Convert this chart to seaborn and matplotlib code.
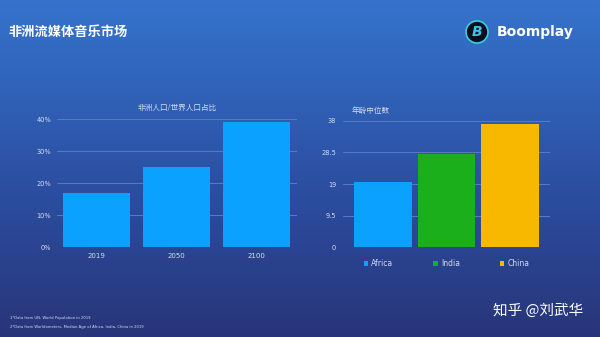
import numpy as np
import pandas as pd
import matplotlib
matplotlib.use("Agg")
import matplotlib.pyplot as plt
import seaborn as sns
from matplotlib.patches import Circle, Patch
from matplotlib.colors import LinearSegmentedColormap

# ---- data ----
years = ["2019", "2050", "2100"]
africa_share = [17, 25, 39]          # % of world population
regions = ["Africa", "India", "China"]
median_age = [19.7, 28, 37]
region_colors = ["#0BA2FF", "#1BB01B", "#F8B800"]
share_ticks = [0, 10, 20, 30, 40]
share_tick_labels = ["0%", "10%", "20%", "30%", "40%"]
age_ticks = [0, 9.5, 19, 28.5, 38]
age_tick_labels = ["0", "9.5", "19", "28.5", "38"]

sns.set_theme(style="white")
plt.rcParams['font.family'] = ['Noto Sans CJK SC', 'DejaVu Sans']

W, H = 600, 337
fig = plt.figure(figsize=(6, 3.37), dpi=100)

# ---- background gradient ----
bg = fig.add_axes([0, 0, 1, 1], zorder=-5)
cmap = LinearSegmentedColormap.from_list(
    "bg", [(0, "#3673CC"), (0.2, "#3167BE"), (0.55, "#2C4FA2"), (1, "#283579")])
grad = np.linspace(0, 1, 256).reshape(-1, 1)
bg.imshow(grad, aspect="auto", cmap=cmap, extent=[0, W, H, 0])
bg.set_xlim(0, W)
bg.set_ylim(H, 0)
bg.axis("off")

txt = "#D5DCEE"
grid_c = "#5A7BC6"

# header
bg.text(8, 32, "非洲流媒体音乐市场", color="white", fontsize=9.5, fontweight="bold",
        va="center", ha="left")
bg.add_patch(Circle((477, 32), 11, facecolor="#0A0F1C", edgecolor="#35CFE0", lw=1.2))
bg.text(477.5, 32.5, "B", color="#3FC3EA", fontsize=10, fontweight="bold",
        ha="center", va="center", family="DejaVu Sans", style="italic")
bg.text(497, 32, "Boomplay", color="white", fontsize=10, fontweight="bold",
        va="center", ha="left", family="DejaVu Sans")

# footnotes & watermark
bg.text(10, 318, "1*Data from UN, World Population in 2019", color=txt,
        fontsize=2.7, va="center", ha="left", family="DejaVu Sans")
bg.text(10, 327, "2*Data from Worldometers, Median Age of Africa, India, China in 2019",
        color=txt, fontsize=2.7, va="center", ha="left", family="DejaVu Sans")
bg.text(583, 311, "知乎 @刘武华", color="white", fontsize=10.5, va="center", ha="right")


def style_axes(ax):
    ax.patch.set_alpha(0)
    for p in ax.patches:
        p.set_linewidth(0)
        p.set_edgecolor("none")
        p.set_zorder(3)
    ax.set_xlabel("")
    ax.set_ylabel("")
    ax.grid(False)
    for s in ax.spines.values():
        s.set_visible(False)


# ---- left chart ----
ax1 = fig.add_axes([56.5 / W, (H - 247) / H, 240 / W, 128 / H])
df1 = pd.DataFrame({"year": years, "share": africa_share})
sns.barplot(data=df1, x="year", y="share", color=region_colors[0], saturation=1,
            width=0.84, ax=ax1)
style_axes(ax1)
ax1.set_ylim(0, 40)
ax1.set_xlim(-0.5, 2.5)
ax1.set_yticks(share_ticks)
ax1.set_yticklabels(share_tick_labels)
for v in share_ticks:
    ax1.axhline(v, color=grid_c, lw=0.7, zorder=1)
ax1.tick_params(axis="y", length=0, pad=4, labelsize=4.8, labelcolor=txt)
ax1.tick_params(axis="x", length=0, pad=4, labelsize=5, labelcolor=txt)
for l in ax1.get_xticklabels() + ax1.get_yticklabels():
    l.set_family("DejaVu Sans")
bg.text(177, 108, "非洲人口/世界人口占比", color=txt, fontsize=5.5, ha="center", va="center")

# ---- right chart ----
ax2 = fig.add_axes([343 / W, (H - 247.3) / H, 207 / W, 126.6 / H])
df2 = pd.DataFrame({"region": regions, "age": median_age})
sns.barplot(data=df2, x="region", y="age", hue="region", palette=region_colors,
            saturation=1, width=0.91, ax=ax2, legend=False)
style_axes(ax2)
ax2.set_ylim(0, 38)
ax2.set_xlim(-0.63, 2.63)
ax2.set_yticks(age_ticks)
ax2.set_yticklabels(age_tick_labels)
ax2.set_xticks([])
for v in age_ticks:
    ax2.axhline(v, color=grid_c, lw=0.7, zorder=1)
ax2.tick_params(axis="y", length=0, pad=5, labelsize=4.8, labelcolor=txt)
for l in ax2.get_yticklabels():
    l.set_family("DejaVu Sans")
bg.text(352, 111, "年龄中位数", color=txt, fontsize=5.5, ha="left", va="center")

handles = [Patch(facecolor=c, edgecolor="none", label=r)
           for c, r in zip(region_colors, regions)]
leg = ax2.legend(handles=handles, loc="upper center", bbox_to_anchor=(0.5, -0.04),
                 ncol=3, frameon=False, fontsize=5.5, handlelength=0.6,
                 handleheight=0.6, handletextpad=0.4, columnspacing=5.2,
                 labelcolor=txt)
for t in leg.get_texts():
    t.set_family("DejaVu Sans")

fig.savefig("out.png", dpi=100)
